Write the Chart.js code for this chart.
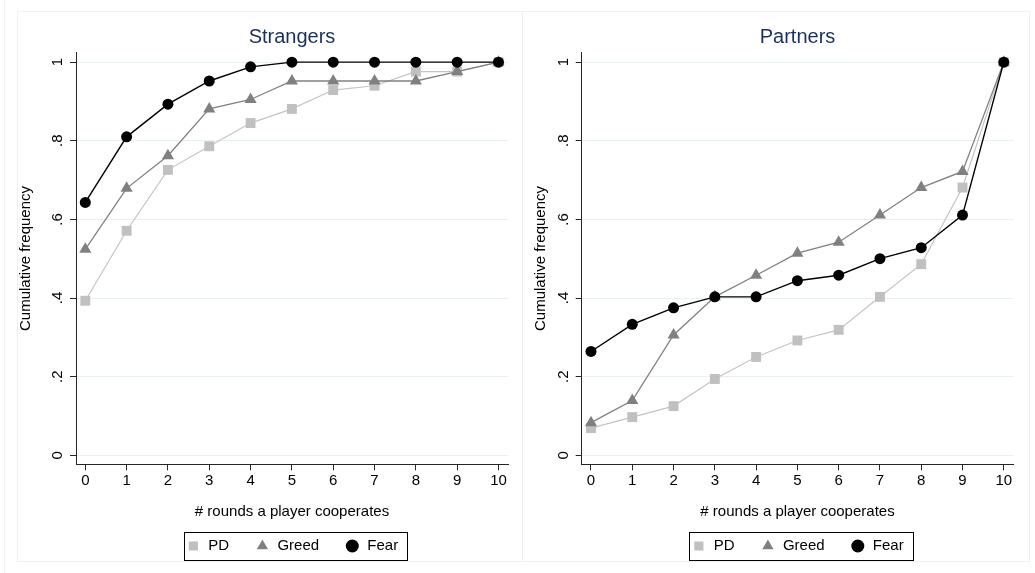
<!DOCTYPE html>
<html><head><meta charset="utf-8">
<script src="https://cdn.jsdelivr.net/npm/chart.js@4/dist/chart.umd.min.js"></script>
<style>
html,body{margin:0;padding:0;background:#fff;overflow:hidden;width:1035px;height:573px;}
.frame{position:absolute;border:1px solid #edf3f4;box-sizing:border-box}
.wrap{position:absolute;top:0;height:573px}
canvas{display:block}
</style></head><body>
<div class="frame" style="left:4px;top:-5px;width:1px;height:590px;border-width:0 0 0 1px"></div>
<div class="frame" style="left:17px;top:11px;width:506px;height:551px"></div>
<div class="frame" style="left:522px;top:11px;width:508px;height:551px"></div>
<div class="wrap" style="left:0;width:517px"><canvas id="c1" width="517" height="573"></canvas></div>
<div class="wrap" style="left:517px;width:518px"><canvas id="c2" width="518" height="573"></canvas></div>
<script>
// ---- data ----
const rounds = [0,1,2,3,4,5,6,7,8,9,10];
const xTickLabels = ['0','1','2','3','4','5','6','7','8','9','10'];
const yTickValues = [0,0.2,0.4,0.6,0.8,1];
const yTickLabels = ['0','.2','.4','.6','.8','1'];
const seriesNames = ['PD','Greed','Fear'];
const panelTitles = ['Strangers','Partners'];
const xAxisTitle = '# rounds a player cooperates';
const yAxisTitle = 'Cumulative frequency';

const strangersPD    = [0.393,0.571,0.726,0.786,0.845,0.881,0.929,0.940,0.976,0.976,1];
const strangersGreed = [0.524,0.679,0.762,0.881,0.905,0.952,0.952,0.952,0.952,0.976,1];
const strangersFear  = [0.643,0.810,0.893,0.952,0.988,1,1,1,1,1,1];

const partnersPD    = [0.069,0.097,0.125,0.194,0.250,0.292,0.319,0.403,0.486,0.681,1];
const partnersGreed = [0.083,0.139,0.306,0.403,0.458,0.514,0.542,0.611,0.681,0.722,1];
const partnersFear  = [0.264,0.333,0.375,0.403,0.403,0.444,0.458,0.500,0.528,0.611,1];

// ---- styling ----
const FONT = "'Liberation Sans', Arial, Helvetica, sans-serif";
const AXIS = '#262626';

const legendFrame = {
  id: 'legendFrame',
  afterDraw(chart) {
    const hb = chart.legend && chart.legend.legendHitBoxes;
    if (!hb || !hb.length) return;
    let minL = Infinity, maxR = -Infinity;
    hb.forEach(h => { minL = Math.min(minL, h.left); maxR = Math.max(maxR, h.left + h.width); });
    const l = Math.round(minL - 2) + 0.5;
    const r = Math.round(maxR + 9) + 0.5;
    const t = Math.round(hb[0].top - 7) + 0.5;
    const b = Math.round(hb[0].top + hb[0].height + 6.5) + 0.5;
    const ctx = chart.ctx;
    ctx.save();
    ctx.strokeStyle = '#000';
    ctx.lineWidth = 1;
    ctx.strokeRect(l, t, r - l, b - t);
    ctx.restore();
  }
};

function series(name, data, fill, line, style, radius, width, order) {
  return {
    label: name,
    data: rounds.map((x, i) => ({x: x, y: data[i]})),
    borderColor: line,
    borderWidth: width,
    backgroundColor: fill,
    pointStyle: style,
    pointRadius: radius,
    pointHoverRadius: radius,
    pointBackgroundColor: fill,
    pointBorderColor: fill,
    pointBorderWidth: 0,
    tension: 0,
    order: order,
    clip: false
  };
}

function makeChart(id, title, pd, greed, fear, yWidth, padRight, yTitlePad) {
  return new Chart(document.getElementById(id), {
    type: 'line',
    data: {
      datasets: [
        series(seriesNames[0], pd, '#c0c0c0', '#c4c4c4', 'rect', 7, 1.2, 2),
        series(seriesNames[1], greed, '#808080', '#808080', 'triangle', 7, 1.3, 1),
        series(seriesNames[2], fear, '#000000', '#000000', 'circle', 5.5, 1.4, 0)
      ]
    },
    options: {
      responsive: false,
      animation: false,
      events: [],
      layout: {padding: {left: 0, right: padRight, top: 0, bottom: 9.5}},
      plugins: {
        title: {
          display: true, text: title, color: '#1b2f5e', fullSize: false,
          font: {family: FONT, size: 20, weight: 'normal'},
          padding: {top: 25, bottom: 3.7}
        },
        legend: {
          position: 'bottom', fullSize: false,
          labels: {
            usePointStyle: true, boxWidth: 15, boxHeight: 9.2, padding: 25.7,
            color: '#000', font: {family: FONT, size: 15},
            sort: (a, b) => a.datasetIndex - b.datasetIndex
          }
        },
        tooltip: {enabled: false}
      },
      scales: {
        x: {
          type: 'linear', min: -0.225, max: 10.23,
          afterBuildTicks: s => { s.ticks = rounds.map(v => ({value: v})); },
          afterFit: s => { s.height = 48.5; },
          ticks: {
            autoSkip: false, maxRotation: 0, minRotation: 0, padding: 1.5,
            color: '#000', font: {family: FONT, size: 15},
            callback: v => xTickLabels[rounds.indexOf(v)]
          },
          grid: {drawOnChartArea: false, drawTicks: true, tickLength: 6, tickColor: AXIS, tickWidth: 1},
          border: {color: AXIS, width: 1},
          title: {
            display: true, text: xAxisTitle, color: '#000',
            font: {family: FONT, size: 15}, padding: {top: 0, bottom: -8}
          }
        },
        y: {
          type: 'linear', min: -0.023, max: 1.024,
          afterBuildTicks: s => { s.ticks = yTickValues.map(v => ({value: v})); },
          afterFit: s => { s.width = yWidth; },
          ticks: {
            autoSkip: false, minRotation: 90, maxRotation: 90, crossAlign: 'center', padding: 5.75,
            color: '#000', font: {family: FONT, size: 15},
            callback: v => yTickLabels[yTickValues.indexOf(v)]
          },
          grid: {color: '#e8f0f2', lineWidth: 1, drawTicks: true, tickLength: 6, tickColor: AXIS, tickWidth: 1},
          border: {color: AXIS, width: 1},
          title: {
            display: true, text: yAxisTitle, color: '#000',
            font: {family: FONT, size: 15}, padding: {top: yTitlePad, bottom: 0}
          }
        }
      }
    },
    plugins: [legendFrame]
  });
}

makeChart('c1', panelTitles[0], strangersPD, strangersGreed, strangersFear, 76, 9, 17);
makeChart('c2', panelTitles[1], partnersPD, partnersGreed, partnersFear, 64.7, 21.7, 15);
</script>
</body></html>
